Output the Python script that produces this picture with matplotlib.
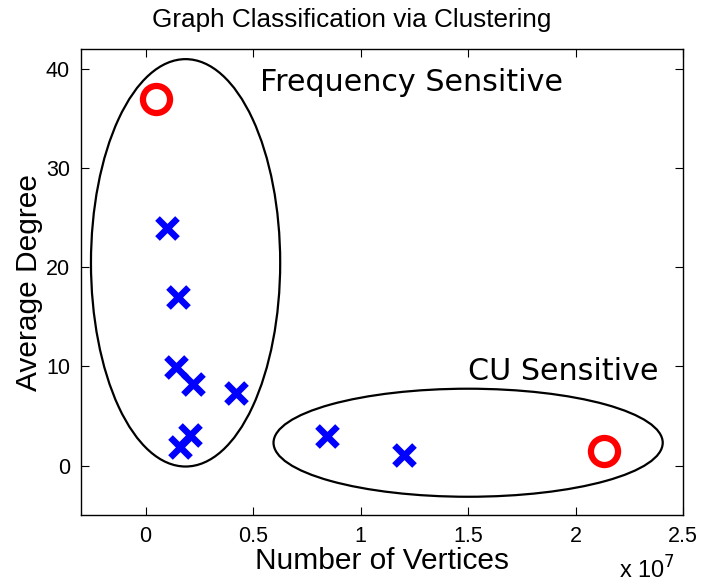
import matplotlib
matplotlib.use("Agg")
import matplotlib.pyplot as plt
from matplotlib.patches import Ellipse
from matplotlib.ticker import FuncFormatter

# Graph data: number of vertices vs. average degree
freq_vertices = [0.098e7, 0.153e7, 0.140e7, 0.220e7, 0.420e7, 0.205e7, 0.158e7]
freq_degree = [24.0, 17.0, 9.9, 8.2, 7.3, 3.1, 1.9]
cu_vertices = [0.846e7, 1.200e7]
cu_degree = [3.0, 1.1]
center_vertices = [0.047e7, 2.130e7]
center_degree = [37.0, 1.5]

# Cluster outlines: (center x, center y, width, height)
cluster_freq = (0.186e7, 20.45, 0.88e7, 41.1)
cluster_cu = (1.50e7, 2.30, 1.81e7, 10.9)

x_ticks = [0, 0.5e7, 1.0e7, 1.5e7, 2.0e7, 2.5e7]
y_ticks = [0, 10, 20, 30, 40]

helv = ["Liberation Sans", "DejaVu Sans"]

fig = plt.figure(figsize=(7.05, 5.86), dpi=100)
ax = fig.add_axes([0.115, 0.121, 0.854, 0.795])

ax.plot(freq_vertices, freq_degree, linestyle="none", marker="x",
        color="#0000ff", markersize=15, markeredgewidth=4.7)
ax.plot(cu_vertices, cu_degree, linestyle="none", marker="x",
        color="#0000ff", markersize=15, markeredgewidth=4.7)
ax.plot(center_vertices, center_degree, linestyle="none", marker="o",
        markerfacecolor="none", markeredgecolor="#ff0000",
        markersize=19.5, markeredgewidth=4.5)

for cx, cy, w, h in (cluster_freq, cluster_cu):
    ax.add_patch(Ellipse((cx, cy), w, h, fill=False, edgecolor="black",
                         linewidth=1.6))

ax.text(0.53e7, 38.6, "Frequency Sensitive", fontsize=21.7,
        family="DejaVu Sans", va="center", ha="left")
ax.text(1.50e7, 9.5, "CU Sensitive", fontsize=21.7,
        family="DejaVu Sans", va="center", ha="left")

ax.set_xlim(-0.3e7, 2.5e7)
ax.set_ylim(-5, 42)
ax.set_xticks(x_ticks)
ax.set_yticks(y_ticks)
ax.xaxis.set_major_formatter(FuncFormatter(lambda v, p: f"{v / 1e7:g}"))
ax.tick_params(direction="in", length=6, width=0.8, top=True, right=True,
               labelsize=15.5, pad=8)
for lab in ax.get_xticklabels() + ax.get_yticklabels():
    lab.set_family(helv)
for s in ax.spines.values():
    s.set_linewidth(1.0)

ax.set_title("Graph Classification via Clustering", fontsize=18.8,
             family=helv, pad=16, x=0.45)
ax.set_xlabel("Number of Vertices", fontsize=21.5, family=helv, labelpad=0)
ax.set_ylabel("Average Degree", fontsize=21.5, family=helv, labelpad=2)

ax.text(0.987, -0.136, r"x 10$^{7}$", transform=ax.transAxes, fontsize=17,
        family=helv, ha="right", va="baseline")

fig.savefig("out.png", dpi=100)
